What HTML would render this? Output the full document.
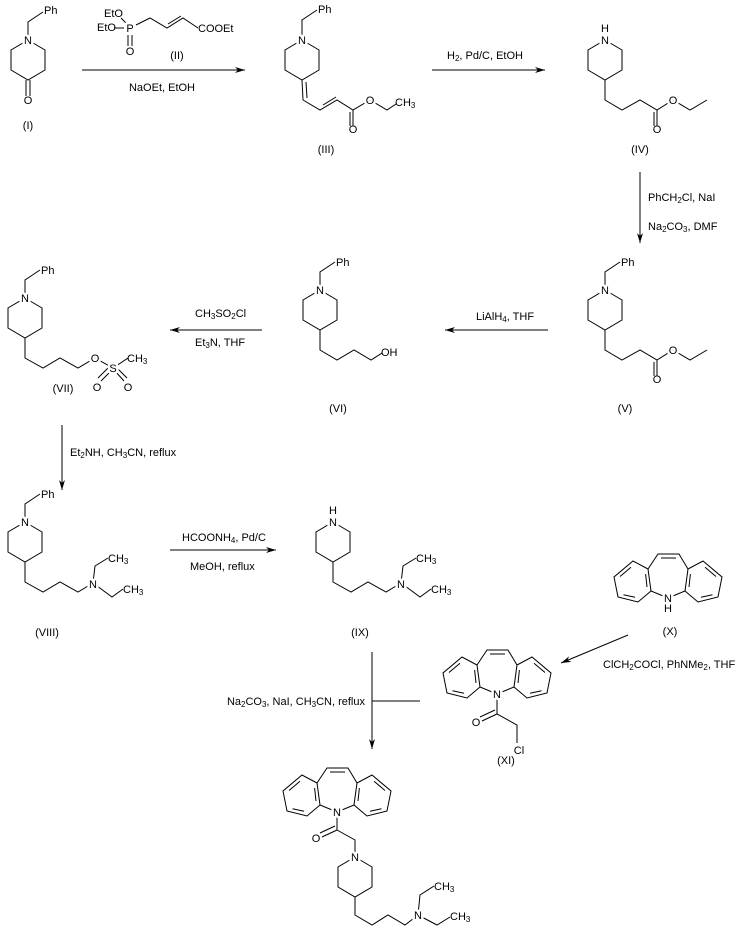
<!DOCTYPE html>
<html><head><meta charset="utf-8"><style>
html,body{margin:0;padding:0;background:#fff}
svg{display:block}
text{font-family:"Liberation Sans",Arial,sans-serif;font-size:11px;fill:#000}
.l{stroke:#000;stroke-width:1;fill:none}
.a{paint-order:stroke;stroke:#fff;stroke-width:5px;stroke-linejoin:round}
.s{font-size:8px}
</style></head><body>
<svg width="735" height="938" viewBox="0 0 735 938" xmlns="http://www.w3.org/2000/svg">
<defs>
<marker id="ah" viewBox="0 0 10 6" refX="10" refY="3" markerWidth="10" markerHeight="6" orient="auto" markerUnits="userSpaceOnUse"><path d="M0,0 L10,3 L0,6 L3,3 z" fill="#000"/></marker>
<polygon id="pip" class="l" points="0,0 17,10 17,30 0,40 -17,30 -17,10"/>
<g id="dbz" class="l">
<polyline points="0,0 -17,-7 -20,-29 -35,-37 -54,-21 -50,-1 -30,4 -17,-7"/>
<polyline points="0,0 17,-7 20,-29 35,-37 54,-21 50,-1 30,4 17,-7"/>
<polyline points="-20,-29 -10,-44 11,-44 20,-29"/>
<line x1="-7" y1="-40" x2="8" y2="-40"/>
<line x1="-37" y1="-30.8" x2="-48" y2="-21.5"/><line x1="-44.5" y1="-3.3" x2="-33" y2="-0.8"/><line x1="-21" y1="-11" x2="-22.4" y2="-24"/>
<line x1="37" y1="-30.8" x2="48" y2="-21.5"/><line x1="44.5" y1="-3.3" x2="33" y2="-0.8"/><line x1="21" y1="-11" x2="22.4" y2="-24"/>
</g>
</defs>

<!-- I -->
<use href="#pip" x="28" y="40"/>
<polyline class="l" points="28,40 28,22 43,12"/>
<line class="l" x1="26" y1="80" x2="26" y2="96"/><line class="l" x1="30" y1="80" x2="30" y2="96"/>
<text x="28" y="44" text-anchor="middle" class="a">N</text>
<text x="44" y="14">Ph</text>
<text x="28" y="104" text-anchor="middle">O</text>
<text x="28" y="129" text-anchor="middle">(I)</text>

<!-- II -->
<line class="l" x1="114" y1="28" x2="124" y2="28"/>
<line class="l" x1="127" y1="24" x2="121" y2="18"/>
<line class="l" x1="128" y1="35" x2="128" y2="46"/><line class="l" x1="132" y1="35" x2="132" y2="46"/>
<polyline class="l" points="136,25 150,18 167,28 183,18 198,28"/>
<line class="l" x1="168" y1="24" x2="181" y2="16"/>
<text x="104" y="17">EtO</text>
<text x="97" y="31">EtO</text>
<text x="130" y="32" text-anchor="middle" class="a">P</text>
<text x="130" y="55" text-anchor="middle">O</text>
<text x="198" y="32">COOEt</text>
<text x="177" y="59" text-anchor="middle">(II)</text>
<line class="l" x1="82" y1="70" x2="245" y2="70" marker-end="url(#ah)"/>
<text x="162" y="91" text-anchor="middle">NaOEt, EtOH</text>

<!-- III -->
<use href="#pip" x="302" y="40"/>
<polyline class="l" points="302,40 302,20 317,10"/>
<line class="l" x1="302" y1="80" x2="303" y2="100"/><line class="l" x1="306" y1="82" x2="307" y2="98"/>
<polyline class="l" points="303,100 320,110 337,100 353,110 370,100 387,110 396,104"/>
<line class="l" x1="323" y1="105" x2="336" y2="97"/>
<line class="l" x1="353" y1="110" x2="353" y2="126"/><line class="l" x1="350" y1="112" x2="350" y2="126"/>
<text x="302" y="44" text-anchor="middle" class="a">N</text>
<text x="318" y="13">Ph</text>
<text x="370" y="104" text-anchor="middle" class="a">O</text>
<text x="353" y="133" text-anchor="middle">O</text>
<text x="395" y="106">CH<tspan class="s" dy="2">3</tspan></text>
<text x="326" y="153" text-anchor="middle">(III)</text>

<line class="l" x1="432" y1="70" x2="545" y2="70" marker-end="url(#ah)"/>
<text x="447" y="59">H<tspan class="s" dy="2">2</tspan><tspan dy="-2">, Pd/C, EtOH</tspan></text>

<!-- IV -->
<use href="#pip" x="605" y="40"/>
<polyline class="l" points="605,80 605,100 622,110 640,100 657,110 673,100 690,110 707,100"/>
<line class="l" x1="657" y1="110" x2="657" y2="126"/><line class="l" x1="654" y1="112" x2="654" y2="126"/>
<text x="605" y="44" text-anchor="middle" class="a">N</text>
<text x="605" y="32" text-anchor="middle">H</text>
<text x="673" y="104" text-anchor="middle" class="a">O</text>
<text x="657" y="133" text-anchor="middle">O</text>
<text x="640" y="153" text-anchor="middle">(IV)</text>

<line class="l" x1="640" y1="172" x2="640" y2="243" marker-end="url(#ah)"/>
<text x="648" y="201">PhCH<tspan class="s" dy="2">2</tspan><tspan dy="-2">Cl, NaI</tspan></text>
<text x="648" y="230">Na<tspan class="s" dy="2">2</tspan><tspan dy="-2">CO</tspan><tspan class="s" dy="2">3</tspan><tspan dy="-2">, DMF</tspan></text>

<!-- V -->
<use href="#pip" x="605" y="290"/>
<polyline class="l" points="605,290 605,272 620,262"/>
<polyline class="l" points="605,330 605,350 622,360 640,350 657,360 673,350 690,360 707,350"/>
<line class="l" x1="657" y1="360" x2="657" y2="376"/><line class="l" x1="654" y1="362" x2="654" y2="376"/>
<text x="605" y="294" text-anchor="middle" class="a">N</text>
<text x="621" y="266">Ph</text>
<text x="673" y="354" text-anchor="middle" class="a">O</text>
<text x="657" y="383" text-anchor="middle">O</text>
<text x="625" y="412" text-anchor="middle">(V)</text>

<line class="l" x1="548" y1="330" x2="445" y2="330" marker-end="url(#ah)"/>
<text x="476" y="320">LiAlH<tspan class="s" dy="2">4</tspan><tspan dy="-2">, THF</tspan></text>

<!-- VI -->
<use href="#pip" x="320" y="290"/>
<polyline class="l" points="320,290 320,272 335,262"/>
<polyline class="l" points="320,330 320,350 337,360 354,350 371,360 382,353"/>
<text x="320" y="294" text-anchor="middle" class="a">N</text>
<text x="336" y="266">Ph</text>
<text x="381" y="356">OH</text>
<text x="338" y="412" text-anchor="middle">(VI)</text>

<line class="l" x1="262" y1="330" x2="170" y2="330" marker-end="url(#ah)"/>
<text x="195" y="317">CH<tspan class="s" dy="2">3</tspan><tspan dy="-2">SO</tspan><tspan class="s" dy="2">2</tspan><tspan dy="-2">Cl</tspan></text>
<text x="195" y="346">Et<tspan class="s" dy="2">3</tspan><tspan dy="-2">N, THF</tspan></text>

<!-- VII -->
<use href="#pip" x="25" y="298"/>
<polyline class="l" points="25,298 25,280 40,270"/>
<polyline class="l" points="25,338 25,358 43,368 60,358 78,368 95,358 113,368 128,358"/>
<line class="l" x1="111" y1="371" x2="101" y2="381"/><line class="l" x1="108" y1="368" x2="98" y2="378"/>
<line class="l" x1="115" y1="371" x2="124" y2="381"/><line class="l" x1="118" y1="369" x2="127" y2="378"/>
<text x="25" y="302" text-anchor="middle" class="a">N</text>
<text x="41" y="274">Ph</text>
<text x="95" y="362" text-anchor="middle" class="a">O</text>
<text x="113" y="372" text-anchor="middle" class="a">S</text>
<text x="127" y="362">CH<tspan class="s" dy="2">3</tspan></text>
<text x="97" y="391" text-anchor="middle">O</text>
<text x="128" y="391" text-anchor="middle">O</text>
<text x="63" y="392" text-anchor="middle">(VII)</text>

<line class="l" x1="62" y1="425" x2="62" y2="490" marker-end="url(#ah)"/>
<text x="70" y="456">Et<tspan class="s" dy="2">2</tspan><tspan dy="-2">NH, CH</tspan><tspan class="s" dy="2">3</tspan><tspan dy="-2">CN, reflux</tspan></text>

<!-- VIII -->
<use href="#pip" x="25" y="522"/>
<polyline class="l" points="25,522 25,504 40,494"/>
<polyline class="l" points="25,562 25,582 43,592 60,582 78,592 93,583"/>
<polyline class="l" points="93,583 95,566 108,558"/>
<polyline class="l" points="93,583 112,597 123,589"/>
<text x="25" y="526" text-anchor="middle" class="a">N</text>
<text x="41" y="498">Ph</text>
<text x="93" y="588" text-anchor="middle" class="a">N</text>
<text x="108" y="562">CH<tspan class="s" dy="2">3</tspan></text>
<text x="123" y="593">CH<tspan class="s" dy="2">3</tspan></text>
<text x="47" y="636" text-anchor="middle">(VIII)</text>

<line class="l" x1="170" y1="550" x2="276" y2="550" marker-end="url(#ah)"/>
<text x="182" y="541">HCOONH<tspan class="s" dy="2">4</tspan><tspan dy="-2">, Pd/C</tspan></text>
<text x="190" y="570">MeOH, reflux</text>

<!-- IX -->
<use href="#pip" x="333" y="522"/>
<polyline class="l" points="333,562 333,582 351,592 368,582 386,592 401,583"/>
<polyline class="l" points="401,583 403,566 416,558"/>
<polyline class="l" points="401,583 420,597 431,589"/>
<text x="333" y="526" text-anchor="middle" class="a">N</text>
<text x="333" y="514" text-anchor="middle">H</text>
<text x="401" y="588" text-anchor="middle" class="a">N</text>
<text x="416" y="562">CH<tspan class="s" dy="2">3</tspan></text>
<text x="431" y="593">CH<tspan class="s" dy="2">3</tspan></text>
<text x="360" y="636" text-anchor="middle">(IX)</text>

<!-- X -->
<use href="#dbz" x="668" y="598"/>
<text x="668" y="602" text-anchor="middle" class="a">N</text>
<text x="668" y="612" text-anchor="middle">H</text>
<text x="670" y="635" text-anchor="middle">(X)</text>

<line class="l" x1="628" y1="635" x2="561" y2="663" marker-end="url(#ah)"/>
<text x="603" y="668">ClCH<tspan class="s" dy="2">2</tspan><tspan dy="-2">COCl, PhNMe</tspan><tspan class="s" dy="2">2</tspan><tspan dy="-2">, THF</tspan></text>

<!-- XI -->
<use href="#dbz" x="497" y="694"/>
<polyline class="l" points="497,694 497,714 517,725 517,743"/>
<line class="l" x1="497" y1="714" x2="482" y2="721"/><line class="l" x1="495" y1="710" x2="480" y2="717"/>
<text x="497" y="698" text-anchor="middle" class="a">N</text>
<text x="476" y="726" text-anchor="middle">O</text>
<text x="519" y="754" text-anchor="middle">Cl</text>
<text x="506" y="764" text-anchor="middle">(XI)</text>

<!-- convergence -->
<line class="l" x1="372" y1="652" x2="372" y2="749" marker-end="url(#ah)"/>
<line class="l" x1="372" y1="701" x2="420" y2="701"/>
<text x="365" y="705" text-anchor="end">Na<tspan class="s" dy="2">2</tspan><tspan dy="-2">CO</tspan><tspan class="s" dy="2">3</tspan><tspan dy="-2">, NaI, CH</tspan><tspan class="s" dy="2">3</tspan><tspan dy="-2">CN, reflux</tspan></text>

<!-- final product -->
<use href="#dbz" x="337" y="812"/>
<polyline class="l" points="337,812 337,830 355,840 355,857"/>
<line class="l" x1="337" y1="830" x2="322" y2="837"/><line class="l" x1="335" y1="826" x2="320" y2="833"/>
<use href="#pip" x="355" y="857"/>
<polyline class="l" points="355,897 355,915 372,925 388,915 405,925 418,915"/>
<polyline class="l" points="418,915 420,895 434,886"/>
<polyline class="l" points="418,915 437,925 450,917"/>
<text x="337" y="816" text-anchor="middle" class="a">N</text>
<text x="316" y="842" text-anchor="middle">O</text>
<text x="355" y="861" text-anchor="middle" class="a">N</text>
<text x="418" y="919" text-anchor="middle" class="a">N</text>
<text x="434" y="890">CH<tspan class="s" dy="2">3</tspan></text>
<text x="450" y="920">CH<tspan class="s" dy="2">3</tspan></text>
</svg>
</body></html>
